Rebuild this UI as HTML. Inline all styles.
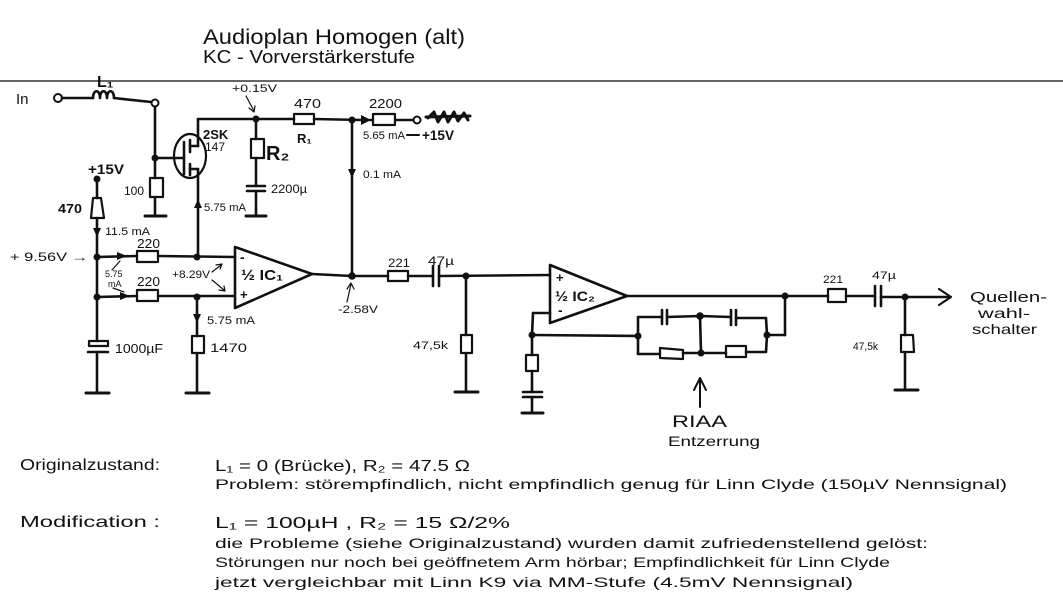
<!DOCTYPE html>
<html><head><meta charset="utf-8"><style>
html,body{margin:0;padding:0;background:#fff;}
svg{display:block}
text{font-family:"Liberation Sans",sans-serif;fill:#111}
</style></head><body>
<svg width="1063" height="610" viewBox="0 0 1063 610" xmlns="http://www.w3.org/2000/svg">
<rect width="1063" height="610" fill="#fff"/>
<line x1="0" y1="81" x2="1063" y2="81" stroke="#333" stroke-width="1.6"/>
<g stroke="#111" stroke-width="2.6" fill="none" stroke-linecap="round" stroke-linejoin="round">
<!-- input -->
<circle cx="58" cy="98" r="4" stroke-width="2"/>
<line x1="62" y1="98" x2="93" y2="98"/>
<path d="M93,98 c0,-9 7,-9 7,0 c0,-9 7,-9 7,0 c0,-9 7,-9 7,0"/>
<path d="M114,98 L151,102"/>
<circle cx="155" cy="103" r="3.5" stroke-width="2"/>
<line x1="155" y1="107" x2="155" y2="178"/>
<rect x="150" y="178" width="13" height="19" stroke-width="2.2"/>
<line x1="155" y1="197" x2="155" y2="216"/>
<line x1="145" y1="216" x2="166" y2="216" stroke-width="3"/>
<!-- JFET -->
<ellipse cx="190" cy="156" rx="16" ry="22" stroke-width="2.2"/>
<line x1="155" y1="158" x2="184" y2="158"/>
<line x1="184" y1="142" x2="184" y2="174"/>
<line x1="190" y1="140" x2="190" y2="152"/>
<line x1="190" y1="164" x2="190" y2="175"/>
<line x1="190" y1="146" x2="198" y2="146"/>
<line x1="190" y1="169" x2="198" y2="169"/>
<line x1="198" y1="119" x2="198" y2="146"/>
<line x1="198" y1="169" x2="198" y2="257"/>
<!-- top rail -->
<line x1="198" y1="119" x2="294" y2="119"/>
<rect x="294" y="114" width="20" height="10" stroke-width="2.2"/>
<line x1="314" y1="119" x2="362" y2="120"/>
<line x1="370" y1="120" x2="373" y2="120"/>
<rect x="373" y="114" width="22" height="11" stroke-width="2.2"/>
<line x1="395" y1="120" x2="413" y2="120"/>
<circle cx="417" cy="120" r="3.5" stroke-width="2"/>
<!-- R2 branch -->
<line x1="256" y1="119" x2="256" y2="139"/>
<rect x="251" y="139" width="13" height="19" stroke-width="2.2"/>
<line x1="256" y1="158" x2="256" y2="186"/>
<line x1="247" y1="186" x2="265" y2="186"/>
<line x1="247" y1="191" x2="265" y2="191"/>
<line x1="256" y1="191" x2="256" y2="216"/>
<line x1="246" y1="216" x2="266" y2="216" stroke-width="3"/>
<!-- vertical 352 -->
<line x1="352" y1="120" x2="352" y2="276"/>
<!-- left supply -->
<line x1="97" y1="179" x2="97" y2="198"/>
<polygon points="93,198 101,198 104,218 91,218" stroke-width="2.2"/>
<line x1="97" y1="218" x2="97" y2="341"/>
<rect x="89" y="341" width="19" height="5" stroke-width="2.2"/>
<line x1="88" y1="352" x2="108" y2="352"/>
<line x1="97" y1="352" x2="97" y2="393"/>
<line x1="86" y1="393" x2="109" y2="393" stroke-width="3"/>
<!-- upper 220 -->
<line x1="97" y1="257" x2="137" y2="256"/>
<rect x="137" y="251" width="21" height="11" stroke-width="2.2"/>
<line x1="158" y1="256" x2="235" y2="257"/>
<!-- lower 220 -->
<line x1="97" y1="297" x2="137" y2="296"/>
<rect x="137" y="290" width="21" height="11" stroke-width="2.2"/>
<line x1="158" y1="296" x2="235" y2="296"/>
<line x1="197" y1="297" x2="197" y2="336"/>
<rect x="192" y="336" width="12" height="17" stroke-width="2.2"/>
<line x1="197" y1="353" x2="197" y2="393"/>
<line x1="186" y1="393" x2="209" y2="393" stroke-width="3"/>
<!-- opamp 1 -->
<polygon points="235,247 235,308 312,274"/>
<line x1="312" y1="274" x2="352" y2="276"/>
<!-- coupling 1 -->
<line x1="352" y1="276" x2="388" y2="276"/>
<rect x="388" y="271" width="20" height="10" stroke-width="2.2"/>
<line x1="408" y1="276" x2="433" y2="276"/>
<line x1="433" y1="266" x2="433" y2="286"/>
<line x1="439" y1="266" x2="439" y2="286"/>
<line x1="439" y1="276" x2="550" y2="275"/>
<line x1="466" y1="276" x2="466" y2="335"/>
<rect x="461" y="335" width="11" height="18" stroke-width="2.2"/>
<line x1="466" y1="353" x2="466" y2="392"/>
<line x1="455" y1="392" x2="478" y2="392" stroke-width="3"/>
<!-- opamp 2 -->
<polygon points="550,265 550,323 627,296"/>
<line x1="627" y1="296" x2="828" y2="296"/>
<line x1="785" y1="296" x2="785" y2="335"/>
<line x1="785" y1="335" x2="767" y2="335"/>
<line x1="550" y1="313" x2="533" y2="313"/>
<line x1="533" y1="313" x2="532" y2="335"/>
<line x1="532" y1="335" x2="638" y2="336"/>
<line x1="532" y1="335" x2="532" y2="355"/>
<rect x="526" y="355" width="12" height="16" stroke-width="2.2"/>
<line x1="532" y1="371" x2="532" y2="392"/>
<line x1="523" y1="392" x2="542" y2="392"/>
<line x1="523" y1="397" x2="542" y2="397"/>
<line x1="532" y1="397" x2="532" y2="413"/>
<line x1="522" y1="413" x2="543" y2="413" stroke-width="3"/>
<!-- RIAA network -->
<path d="M638,336 L638,317 L662,317"/>
<line x1="662" y1="310" x2="662" y2="324"/>
<line x1="667" y1="310" x2="667" y2="324"/>
<path d="M667,317 L700,316 L731,317"/>
<line x1="731" y1="310" x2="731" y2="325"/>
<line x1="736" y1="310" x2="736" y2="325"/>
<path d="M736,318 L766,318 L767,335"/>
<path d="M638,336 L638,354 L660,354"/>
<polygon points="660,348 683,350 683,359 660,358" stroke-width="2.2"/>
<path d="M683,353 L726,353"/>
<rect x="726" y="346" width="20" height="11" stroke-width="2.2"/>
<path d="M746,352 L766,352 L767,335"/>
<line x1="700" y1="316" x2="701" y2="353"/>
<!-- output section -->
<rect x="828" y="289" width="18" height="13" stroke-width="2.2"/>
<line x1="846" y1="296" x2="875" y2="296"/>
<line x1="875" y1="286" x2="875" y2="306"/>
<line x1="881" y1="286" x2="881" y2="306"/>
<line x1="881" y1="297" x2="950" y2="297"/>
<path d="M939,289 L951,297 L939,305" stroke-width="2.2"/>
<line x1="905" y1="297" x2="905" y2="335"/>
<path d="M901,335 L913,335 L914,352 L901,352 Z" stroke-width="2.2"/>
<line x1="905" y1="352" x2="905" y2="390"/>
<line x1="895" y1="390" x2="918" y2="390" stroke-width="3"/>
<!-- RIAA arrow -->
<line x1="700" y1="407" x2="700" y2="380" stroke-width="2"/>
<path d="M694,390 L700,378 L706,390" stroke-width="2"/>
<!-- small label arrows -->
<g stroke-width="1.2">
<line x1="246" y1="96" x2="254" y2="111"/>
<path d="M249,108 L254,112 L255,106"/>
<line x1="347" y1="302" x2="351" y2="284"/>
<path d="M347,289 L351,283 L354,289"/>
<line x1="212" y1="272" x2="221" y2="265"/>
<path d="M216,265 L222,264 L220,269"/>
<line x1="212" y1="280" x2="224" y2="290"/>
<path d="M219,290 L225,291 L224,286"/>
<line x1="112" y1="270" x2="120" y2="261"/>
<line x1="113" y1="288" x2="124" y2="292"/>
<line x1="407" y1="135" x2="419" y2="135" stroke-width="2"/>
</g>
<!-- scribble -->
<path d="M428,118 L434,112 L438,122 L444,112 L448,122 L454,112 L458,121 L464,113 L468,120" stroke-width="3"/>
<line x1="426" y1="117" x2="470" y2="116" stroke-width="3"/>
</g>
<!-- filled parts -->
<g fill="#111" stroke="none">
<circle cx="155" cy="158" r="3.5"/>
<circle cx="256" cy="119" r="3.5"/>
<circle cx="352" cy="120" r="3.5"/>
<circle cx="97" cy="179" r="3.5"/>
<circle cx="97" cy="257" r="3.5"/>
<circle cx="97" cy="297" r="3.5"/>
<circle cx="197" cy="257" r="3.5"/>
<circle cx="197" cy="297" r="3.5"/>
<circle cx="352" cy="276" r="3.8"/>
<circle cx="466" cy="276" r="3.5"/>
<circle cx="785" cy="296" r="3.5"/>
<circle cx="767" cy="335" r="3.5"/>
<circle cx="532" cy="335" r="3.5"/>
<circle cx="638" cy="336" r="3.5"/>
<circle cx="700" cy="316" r="3.8"/>
<circle cx="701" cy="353" r="3.5"/>
<circle cx="905" cy="297" r="3.5"/>
<polygon points="194,208 202,208 198,199"/>
<polygon points="361,115 371,120 361,125"/>
<polygon points="348,169 356,169 352,178"/>
<polygon points="93,228 101,228 97,237"/>
<polygon points="117,252 127,256 117,260"/>
<polygon points="120,292 130,296 120,300"/>
<polygon points="193,314 201,314 197,323"/>
</g>
<!-- title -->
<text x="203" y="44" font-size="21" textLength="262" lengthAdjust="spacingAndGlyphs">Audioplan Homogen (alt)</text>
<text x="203" y="63" font-size="18" textLength="212" lengthAdjust="spacingAndGlyphs">KC - Vorverstärkerstufe</text>
<!-- circuit labels -->
<text x="16" y="104" font-size="15">In</text>
<text x="97" y="87" font-size="16" font-weight="bold">L₁</text>
<text x="232" y="92" font-size="11" textLength="45" lengthAdjust="spacingAndGlyphs">+0.15V</text>
<text x="294" y="108" font-size="13" textLength="27" lengthAdjust="spacingAndGlyphs">470</text>
<text x="297" y="143" font-size="13" font-weight="bold">R₁</text>
<text x="369" y="108" font-size="13" textLength="33" lengthAdjust="spacingAndGlyphs">2200</text>
<text x="363" y="139" font-size="11" textLength="42" lengthAdjust="spacingAndGlyphs">5.65 mA</text>
<text x="422" y="140" font-size="14" font-weight="bold" textLength="32" lengthAdjust="spacingAndGlyphs">+15V</text>
<text x="203" y="139" font-size="13" font-weight="bold">2SK</text>
<text x="205" y="151" font-size="12">147</text>
<text x="266" y="160" font-size="20" font-weight="bold">R₂</text>
<text x="271" y="193" font-size="12" textLength="36" lengthAdjust="spacingAndGlyphs">2200µ</text>
<text x="124" y="195" font-size="12">100</text>
<text x="204" y="211" font-size="11" textLength="42" lengthAdjust="spacingAndGlyphs">5.75 mA</text>
<text x="363" y="178" font-size="11" textLength="38" lengthAdjust="spacingAndGlyphs">0.1 mA</text>
<text x="88" y="174" font-size="14" font-weight="bold" textLength="36" lengthAdjust="spacingAndGlyphs">+15V</text>
<text x="58" y="213" font-size="13" font-weight="bold" textLength="24" lengthAdjust="spacingAndGlyphs">470</text>
<text x="105" y="235" font-size="11" textLength="45" lengthAdjust="spacingAndGlyphs">11.5 mA</text>
<text x="10" y="261" font-size="12" textLength="78" lengthAdjust="spacingAndGlyphs">+ 9.56V →</text>
<text x="137" y="248" font-size="13" textLength="23" lengthAdjust="spacingAndGlyphs">220</text>
<text x="137" y="286" font-size="13" textLength="23" lengthAdjust="spacingAndGlyphs">220</text>
<text x="105" y="277" font-size="9">5.75</text>
<text x="108" y="287" font-size="9">mA</text>
<text x="172" y="278" font-size="11" textLength="38" lengthAdjust="spacingAndGlyphs">+8.29V</text>
<text x="240" y="262" font-size="14" font-weight="bold">-</text>
<text x="240" y="299" font-size="13" font-weight="bold">+</text>
<text x="241" y="280" font-size="15" font-weight="bold" textLength="42" lengthAdjust="spacingAndGlyphs">½ IC₁</text>
<text x="207" y="324" font-size="11" textLength="48" lengthAdjust="spacingAndGlyphs">5.75 mA</text>
<text x="210" y="352" font-size="12" textLength="37" lengthAdjust="spacingAndGlyphs">1470</text>
<text x="115" y="353" font-size="13" textLength="48" lengthAdjust="spacingAndGlyphs">1000µF</text>
<text x="338" y="313" font-size="11" textLength="40" lengthAdjust="spacingAndGlyphs">-2.58V</text>
<text x="388" y="267" font-size="12" textLength="22" lengthAdjust="spacingAndGlyphs">221</text>
<text x="428" y="265" font-size="12" textLength="26" lengthAdjust="spacingAndGlyphs">47µ</text>
<text x="413" y="349" font-size="11" textLength="35" lengthAdjust="spacingAndGlyphs">47,5k</text>
<text x="556" y="282" font-size="13" font-weight="bold">+</text>
<text x="555" y="301" font-size="14" font-weight="bold" textLength="40" lengthAdjust="spacingAndGlyphs">½ IC₂</text>
<text x="558" y="315" font-size="14" font-weight="bold">-</text>
<text x="823" y="283" font-size="11" textLength="20" lengthAdjust="spacingAndGlyphs">221</text>
<text x="872" y="279" font-size="11" textLength="24" lengthAdjust="spacingAndGlyphs">47µ</text>
<text x="853" y="350" font-size="11" textLength="25" lengthAdjust="spacingAndGlyphs">47,5k</text>
<text x="970" y="302" font-size="15" textLength="77" lengthAdjust="spacingAndGlyphs">Quellen-</text>
<text x="978" y="318" font-size="14" textLength="52" lengthAdjust="spacingAndGlyphs">wahl-</text>
<text x="972" y="334" font-size="14" textLength="65" lengthAdjust="spacingAndGlyphs">schalter</text>
<text x="672" y="427" font-size="17" textLength="55" lengthAdjust="spacingAndGlyphs">RIAA</text>
<text x="668" y="446" font-size="14" textLength="92" lengthAdjust="spacingAndGlyphs">Entzerrung</text>
<!-- notes -->
<text x="20" y="470" font-size="16" textLength="140" lengthAdjust="spacingAndGlyphs">Originalzustand:</text>
<text x="215" y="471" font-size="16" textLength="255" lengthAdjust="spacingAndGlyphs">L₁ = 0 (Brücke), R₂ = 47.5 Ω</text>
<text x="215" y="489" font-size="14" textLength="792" lengthAdjust="spacingAndGlyphs">Problem: störempfindlich, nicht empfindlich genug für Linn Clyde  (150µV Nennsignal)</text>
<text x="20" y="527" font-size="16" textLength="140" lengthAdjust="spacingAndGlyphs">Modification  :</text>
<text x="215" y="528" font-size="16" textLength="295" lengthAdjust="spacingAndGlyphs">L₁ = 100µH    , R₂ = 15 Ω/2%</text>
<text x="215" y="548" font-size="14" textLength="713" lengthAdjust="spacingAndGlyphs">die Probleme (siehe Originalzustand) wurden damit zufriedenstellend gelöst:</text>
<text x="215" y="567" font-size="14" textLength="675" lengthAdjust="spacingAndGlyphs">Störungen nur noch bei geöffnetem Arm hörbar; Empfindlichkeit für Linn Clyde</text>
<text x="215" y="587" font-size="14" textLength="638" lengthAdjust="spacingAndGlyphs">jetzt vergleichbar mit Linn K9 via MM-Stufe (4.5mV Nennsignal)</text>
</svg>
</body></html>
